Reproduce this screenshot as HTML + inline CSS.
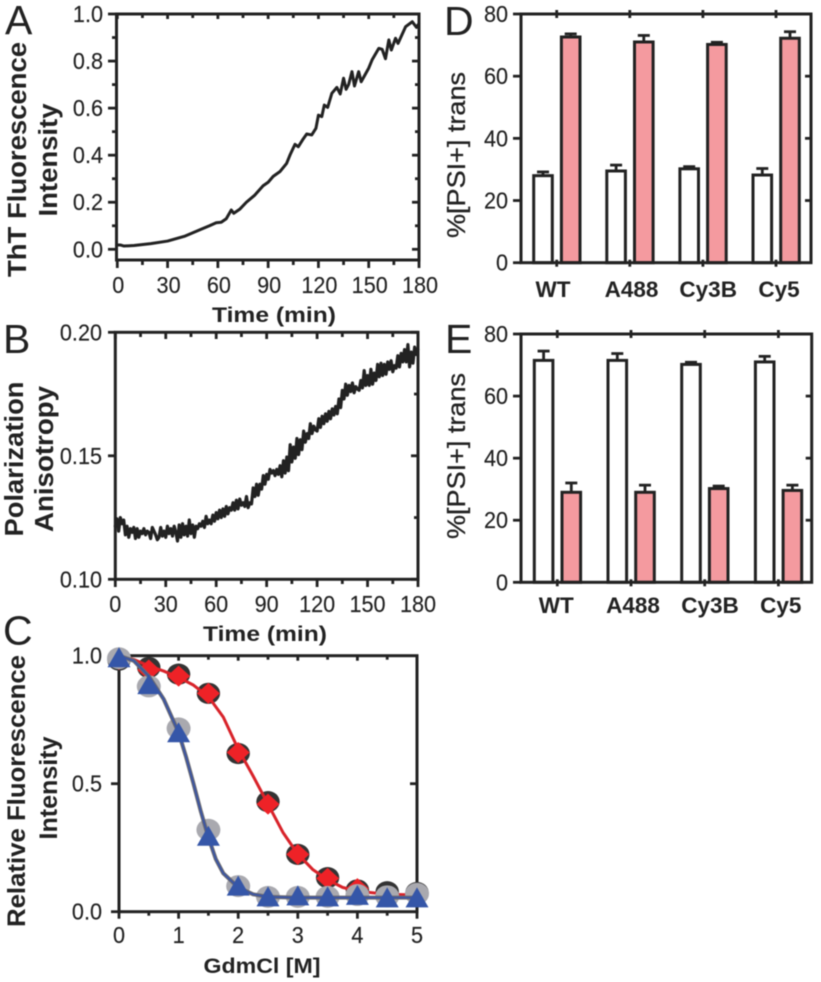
<!DOCTYPE html>
<html lang="en">
<head>
<meta charset="utf-8">
<title>Amyloid assembly multi-panel figure</title>
<style>
html,body{margin:0;padding:0;background:#fff;}
svg{display:block;filter:blur(0.45px);}
text{font-family:"Liberation Sans",Arial,sans-serif;fill:#222;}
</style>
</head>
<body>
<svg id="figure" width="821" height="982" viewBox="0 0 821 982" xmlns="http://www.w3.org/2000/svg"></svg>
<script>
// Panel A data
const thtTime = [0,2,4,10,20,30,40,50,55,59,62,65,68,69.5,73,77,82,87,90,93,97,101,103,106,108,111,113,116,118.5,120,122,123.5,125.5,128,131,133,135,136.5,138,140,141.5,144,145.5,150,152,156,158,160,162,163.5,166,167.5,172,176,178.5,180];
const thtValues = [0.018,0.018,0.014,0.016,0.024,0.035,0.055,0.085,0.100,0.113,0.115,0.130,0.167,0.153,0.170,0.200,0.230,0.270,0.285,0.310,0.330,0.365,0.400,0.446,0.436,0.470,0.490,0.486,0.514,0.570,0.564,0.613,0.603,0.663,0.688,0.660,0.727,0.680,0.700,0.755,0.694,0.755,0.712,0.770,0.805,0.854,0.850,0.810,0.890,0.847,0.897,0.875,0.946,0.967,0.943,0.960];
const panelATimeTicks = [0,30,60,90,120,150,180];
const panelAIntensityTicks = ["0.0","0.2","0.4","0.6","0.8","1.0"];

// Panel B data (one reading per minute, 0-180)
const anisotropyValues = [
.1215,.1245,.1195,.1250,.1225,.1240,.1180,.1215,.1170,.1205,
.1190,.1210,.1165,.1205,.1170,.1195,.1185,.1205,.1180,.1195,
.1190,.1165,.1210,.1195,.1180,.1160,.1170,.1210,.1175,.1195,
.1170,.1215,.1185,.1205,.1175,.1215,.1190,.1155,.1220,.1170,
.1225,.1180,.1215,.1175,.1240,.1185,.1220,.1170,.1215,.1205,
.1225,.1215,.1235,.1210,.1255,.1225,.1240,.1225,.1260,.1235,
.1270,.1245,.1280,.1250,.1285,.1255,.1295,.1265,.1290,.1280,
.1310,.1280,.1320,.1285,.1325,.1300,.1310,.1295,.1335,.1290,
.1310,.1305,.1370,.1335,.1385,.1340,.1385,.1365,.1420,.1385,
.1425,.1405,.1445,.1430,.1440,.1420,.1445,.1425,.1460,.1415,
.1480,.1430,.1495,.1440,.1545,.1475,.1535,.1490,.1570,.1505,
.1565,.1525,.1600,.1555,.1590,.1570,.1630,.1590,.1620,.1605,
.1600,.1650,.1615,.1660,.1630,.1670,.1640,.1680,.1650,.1690,
.1665,.1700,.1670,.1730,.1695,.1765,.1730,.1790,.1745,.1785,
.1760,.1795,.1755,.1780,.1770,.1765,.1805,.1775,.1845,.1785,
.1825,.1785,.1850,.1790,.1835,.1805,.1870,.1820,.1875,.1825,
.1870,.1830,.1880,.1850,.1885,.1840,.1865,.1855,.1905,.1860,
.1915,.1880,.1930,.1880,.1950,.1860,.1920,.1875,.1940,.1910,
.1930];
const panelBAnisotropyTicks = ["0.10","0.15","0.20"];

// Panel C data
const gdmConcentrations = [0,0.5,1,1.5,2,2.5,3,3.5,4,4.5,5];
const blackCircleValues = [0.983,0.954,0.928,0.853,0.618,0.430,0.224,0.133,0.085,0.078,0.075];
const redDiamondValues = [0.985,0.944,0.920,0.853,0.622,0.420,0.224,0.130,0.090,0.060,0.060];
const grayCircleValues = [0.990,0.880,0.716,0.320,0.100,0.058,0.058,0.058,0.065,0.060,0.070];
const blueTriangleValues = [0.990,0.885,0.697,0.293,0.098,0.056,0.060,0.056,0.062,0.052,0.052];
const redFitX = [0,0.25,0.5,0.75,1,1.25,1.5,1.75,2,2.25,2.5,2.75,3,3.25,3.5,3.75,4,4.5,5];
const redFitValues = [1.0,0.985,0.960,0.940,0.915,0.885,0.840,0.760,0.635,0.530,0.420,0.310,0.225,0.165,0.125,0.095,0.080,0.068,0.065];
const blueFitX = [0,0.25,0.5,0.75,1,1.125,1.25,1.375,1.5,1.625,1.75,2,2.25,2.5,3,5];
const blueFitValues = [1.0,0.980,0.920,0.830,0.700,0.605,0.500,0.390,0.290,0.205,0.150,0.095,0.068,0.058,0.055,0.055];
const panelCConcTicks = [0,1,2,3,4,5];
const panelCIntensityTicks = ["0.0","0.5","1.0"];

// Panels D and E data
const strainCategories = ["WT","A488","Cy3B","Cy5"];
const percentTicks = [0,20,40,60,80];
const panelDWhite = [28,29.5,30.2,28.2];
const panelDWhiteErr = [1.2,1.9,0.7,2.1];
const panelDPink = [72.6,71,70.2,72.2];
const panelDPinkErr = [1,2.1,0.7,2.1];
const panelEWhite = [71.5,71.5,70.2,71];
const panelEWhiteErr = [3,2.2,0.7,1.8];
const panelEPink = [29,29,30.2,29.6];
const panelEPinkErr = [3,2.3,0.8,1.7];

const NS = "http://www.w3.org/2000/svg";
const INK = "#222";
const root = document.getElementById("figure");

function make(parent, tag, props) {
  const node = document.createElementNS(NS, tag);
  for (const key in props) node.setAttribute(key, props[key]);
  parent.appendChild(node);
  return node;
}
function scale(d0, d1, r0, r1) {
  return v => r0 + (v - d0) * (r1 - r0) / (d1 - d0);
}
function group(name) {
  const g = make(root, "g", {});
  
  
  return g;
}
function tick(g, x1, y1, x2, y2) {
  const t = make(g, "line", {x1, y1, x2, y2, stroke: INK, "stroke-width": 2.8});
  
  
}
function label(g, str, x, y, size, anchor, weight, name, length) {
  const props = {x, y, "font-size": size, "text-anchor": anchor, "font-weight": weight};
  if (length) { props.textLength = length; props.lengthAdjust = "spacingAndGlyphs"; }
  const t = make(g, "text", props);
  t.textContent = str;
  
  
  return t;
}
function tickLabel(g, str, x, y, anchor, name) {
  const t = label(g, str, x, y, 23, anchor, "normal", name);
  t.setAttribute("textLength", (t.getComputedTextLength() * 0.94).toFixed(2));
  t.setAttribute("lengthAdjust", "spacingAndGlyphs");
  t.setAttribute("stroke", INK);
  t.setAttribute("stroke-width", "0.15");
  return t;
}
function vertical(g, str, x, y, size, weight, name, length) {
  const t = label(g, str, 0, 0, size, "middle", weight, name, length);
  t.setAttribute("transform", "translate(" + x + "," + y + ") rotate(-90)");
  return t;
}
function frame(g, left, top, right, bottom) {
  const r = make(g, "rect", {x: left, y: top, width: right - left, height: bottom - top, fill: "none", stroke: INK, "stroke-width": 3});
  
  
}
function polyline(g, xs, ys, sx, sy, color, width, name) {
  const pts = xs.map((x, i) => sx(x).toFixed(2) + "," + sy(ys[i]).toFixed(2)).join(" ");
  const p = make(g, "polyline", {points: pts, fill: "none", stroke: color, "stroke-width": width, "stroke-linejoin": "round", "stroke-linecap": "round"});
  
  
}

/* ---------- Panel A ---------- */
(function () {
  const g = group("panel-a");
  const sx = scale(0, 180, 117.3, 419);
  const sy = scale(0, 1, 249.3, 14);
  label(g, "A", 5, 34, 41, "start", "normal", "panel-label-a");
  polyline(g, thtTime, thtValues, sx, sy, INK, 3, "tht-fluorescence-line");
  frame(g, 116.5, 14, 419, 260);
  panelATimeTicks.forEach(t => {
    tick(g, sx(t), 260, sx(t), 268);
    tick(g, sx(t), 14, sx(t), 19);
    tickLabel(g, t, sx(t) + 1, 293, "middle", "x-tick-label");
    if (t < 180) {
      tick(g, sx(t + 15), 260, sx(t + 15), 265);
      tick(g, sx(t + 15), 14, sx(t + 15), 18);
    }
  });
  panelAIntensityTicks.forEach(s => {
    const v = parseFloat(s);
    tick(g, 108, sy(v), 116, sy(v));
    tick(g, 412, sy(v), 419, sy(v));
    tickLabel(g, s, 103, sy(v) + 8, "end", "y-tick-label");
    if (v < 1) {
      tick(g, 112, sy(v + 0.1), 116, sy(v + 0.1));
      tick(g, 415, sy(v + 0.1), 419, sy(v + 0.1));
    }
  });
  label(g, "Time (min)", 274, 322, 21.5, "middle", "bold", "x-axis-title", 124);
  vertical(g, "ThT Fluorescence", 26, 159.5, 25.5, "bold", "y-axis-title-line-1", 235);
  vertical(g, "Intensity", 57, 160, 25.5, "bold", "y-axis-title-line-2", 113);
})();

/* ---------- Panel B ---------- */
(function () {
  const g = group("panel-b");
  const sx = scale(0, 180, 115.3, 418);
  const sy = scale(0.1, 0.2, 579.3, 332.3);
  label(g, "B", 3, 353, 41, "start", "normal", "panel-label-b");
  const minutes = anisotropyValues.map((_, i) => i);
  polyline(g, minutes, anisotropyValues, sx, sy, INK, 3.2, "polarization-anisotropy-line");
  frame(g, 115.3, 332.3, 418, 579.3);
  panelATimeTicks.forEach(t => {
    tick(g, sx(t), 579, sx(t), 587);
    tick(g, sx(t), 332, sx(t), 339);
    tickLabel(g, t, sx(t), 612, "middle", "x-tick-label");
    if (t < 180) {
      tick(g, sx(t + 15), 579, sx(t + 15), 584);
      tick(g, sx(t + 15), 332, sx(t + 15), 337);
    }
  });
  panelBAnisotropyTicks.forEach(s => {
    const v = parseFloat(s);
    tick(g, 108, sy(v), 115, sy(v));
    tick(g, 411, sy(v), 418, sy(v));
    tickLabel(g, s, 102, sy(v) + 8, "end", "y-tick-label");
    if (v < 0.2) tick(g, 414, sy(v + 0.025), 418, sy(v + 0.025));
  });
  label(g, "Time (min)", 265, 641, 21.5, "middle", "bold", "x-axis-title", 124);
  vertical(g, "Polarization", 23, 459, 25.5, "bold", "y-axis-title-line-1", 155);
  vertical(g, "Anisotropy", 53, 459, 25.5, "bold", "y-axis-title-line-2", 146);
})();

/* ---------- Panel C ---------- */
(function () {
  const g = group("panel-c");
  const sx = scale(0, 5, 119, 417);
  const sy = scale(0, 1, 911.7, 655.7);
  label(g, "C", 3, 644.5, 41, "start", "normal", "panel-label-c");
  frame(g, 119, 655.7, 417, 911.7);
  [0,0.5,1,1.5,2,2.5,3,3.5,4,4.5,5].forEach(c => {
    const major = Number.isInteger(c);
    tick(g, sx(c), 911.7, sx(c), 911.7 + (major ? 7 : 4));
    tick(g, sx(c), 655.7, sx(c), 655.7 + (major ? 5 : 4));
  });
  panelCConcTicks.forEach(c => tickLabel(g, c, sx(c), 943, "middle", "x-tick-label"));
  panelCIntensityTicks.forEach(s => {
    const v = parseFloat(s);
    tick(g, 111, sy(v), 119, sy(v));
    tickLabel(g, s, 102, sy(v) + 8, "end", "y-tick-label");
  });
  tick(g, 410, sy(0.5), 417, sy(0.5));
  label(g, "GdmCl [M]", 262, 973, 21.5, "middle", "bold", "x-axis-title", 117);
  vertical(g, "Relative Fluorescence", 25, 791, 25, "bold", "y-axis-title-line-1", 272);
  vertical(g, "Intensity", 57, 788, 25, "bold", "y-axis-title-line-2", 103);

  gdmConcentrations.forEach((c, i) => {
    const m = make(g, "ellipse", {cx: sx(c), cy: sy(blackCircleValues[i]), rx: 11.7, ry: 10.6, fill: "#333"});
    
    
  });
  polyline(g, redFitX, redFitValues, sx, sy, "#d8232a", 3, "red-fit-line");
  gdmConcentrations.forEach((c, i) => {
    const x = sx(c), y = sy(redDiamondValues[i]);
    const m = make(g, "polygon", {points: [x, y - 10.5, x + 11.5, y, x, y + 10.5, x - 11.5, y].join(" "), fill: "#ee2227"});
    
    
  });
  gdmConcentrations.forEach((c, i) => {
    const m = make(g, "ellipse", {cx: sx(c), cy: sy(grayCircleValues[i]), rx: 12, ry: 11, fill: "#a9a9af"});
    
    
  });
  polyline(g, blueFitX, blueFitValues, sx, sy, "#6a6a72", 4, "gray-fit-line");
  polyline(g, blueFitX, blueFitValues, sx, sy, "#3a55a5", 1.8, "blue-fit-line");
  gdmConcentrations.forEach((c, i) => {
    const x = sx(c), y = sy(blueTriangleValues[i]);
    const m = make(g, "polygon", {points: [x, y - 11, x + 11.5, y + 9, x - 11.5, y + 9].join(" "), fill: "#3556a8"});
    
    
  });
})();

/* ---------- Panels D and E ---------- */
const panelDLabelOffsets = [-3.7, 1.7, 5.3, 3];
const panelELabelOffsets = [-1, 2, 5.3, 2.4];
function barPanel(name, letter, letterX, letterY, left, right, top, bottom, tickFirst, tickStep, white, whiteErr, pink, pinkErr, labelY, offsets, titleY) {
  const g = group(name);
  const sy = scale(0, 80, bottom, top);
  label(g, letter, letterX, letterY, 41, "start", "normal", "panel-label-" + letter.toLowerCase());
  const sx = i => tickFirst + i * tickStep;
  const drawBar = (cx, val, err, fill, kind) => {
    const cap = make(g, "line", {x1: cx - 6, y1: sy(val + err), x2: cx + 6, y2: sy(val + err), stroke: INK, "stroke-width": 2.8});
    
    
    const stem = make(g, "line", {x1: cx, y1: sy(val + err), x2: cx, y2: sy(val), stroke: INK, "stroke-width": 2.8});
    
    
    const bar = make(g, "rect", {x: cx - 9.3, y: sy(val), width: 18.6, height: bottom - sy(val), fill, stroke: INK, "stroke-width": 3});
    
    
  };
  strainCategories.forEach((c, i) => {
    drawBar(sx(i) - 13.7, white[i], whiteErr[i], "#ffffff", "white");
    drawBar(sx(i) + 14, pink[i], pinkErr[i], "#f49a9f", "pink");
    tick(g, sx(i), bottom - 3, sx(i), bottom + 4);
    tick(g, sx(i), top - 4, sx(i), top + 4);
    label(g, c, sx(i) + offsets[i], labelY, 22.5, "middle", "bold", "x-category-label");
  });
  frame(g, left, top, right, bottom);
  percentTicks.forEach(v => {
    tick(g, left - 8, sy(v), left, sy(v));
    if (v > 0 && v < 80) tick(g, right - 6, sy(v), right, sy(v));
    tickLabel(g, v, left - 13, sy(v) + 8, "end", "y-tick-label");
  });
  const title = vertical(g, "%[PSI+] trans", 465, titleY, 25, "normal", "y-axis-title", 166);
  title.setAttribute("stroke", INK);
  title.setAttribute("stroke-width", "0.3");
}
barPanel("panel-d", "D", 444, 35, 521, 811, 14, 262.7, 556.7, 73.1, panelDWhite, panelDWhiteErr, panelDPink, panelDPinkErr, 297, panelDLabelOffsets, 155);
barPanel("panel-e", "E", 445, 353, 521, 811.7, 334, 582.3, 557.3, 73.7, panelEWhite, panelEWhiteErr, panelEPink, panelEPinkErr, 613, panelELabelOffsets, 456);
</script>
</body>
</html>
